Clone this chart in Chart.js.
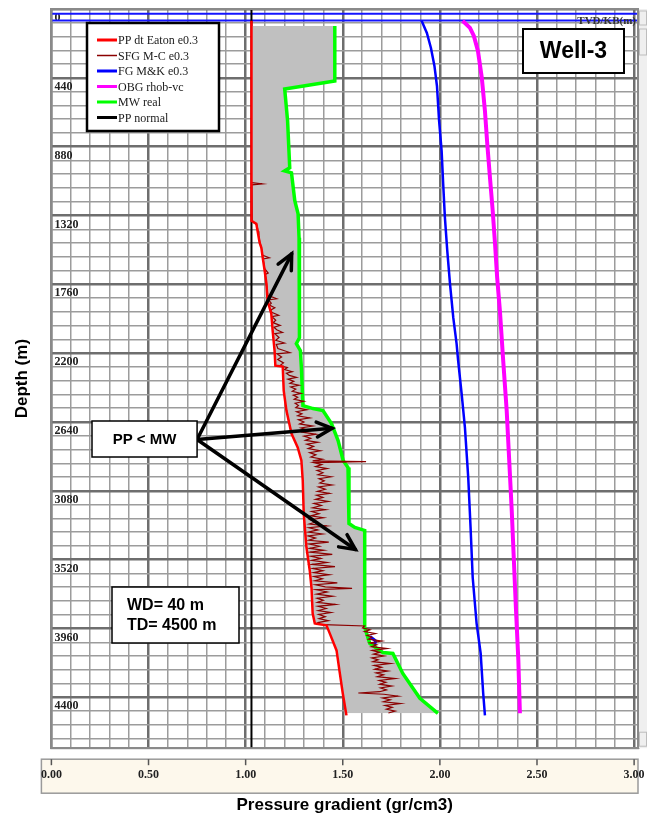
<!DOCTYPE html>
<html lang="en">
<head>
<meta charset="UTF-8">
<title>Well-3 - Pressure gradient vs depth</title>
<script src="https://cdn.jsdelivr.net/npm/chart.js"></script>
<style>
    body { margin: 0; background: #ffffff; }
    #wrap { position: relative; width: 647px; height: 820px; }
</style>
</head>
<body>
<div id="wrap"><canvas id="wellChart" width="647" height="820"></canvas></div>
<script>
// Logs as [depth TVD/KB (m), gradient (gr/cm3)]
const ppLog = [[75,1.03],[1354,1.03],[1373,1.055],[1494,1.072],[1526,1.081],[1590,1.088],[1673,1.098],[1756,1.107],[1865,1.113],[1948,1.132],[2056,1.139],[2184,1.149],[2280,1.153],[2286,1.191],[2439,1.196],[2567,1.210],[2714,1.236],[2803,1.268],[2886,1.287],[3014,1.294],[3225,1.299],[3442,1.313],[3589,1.330],[3698,1.339],[3863,1.345],[3927,1.356],[3940,1.416],[3991,1.433],[4100,1.468],[4247,1.485],[4374,1.500],[4515,1.519]];

const sfgLog = [
    [1110,1.032],[1118,1.085],[1124,1.032],[1360,1.034],[1380,1.058],[1420,1.064],[1450,1.068],[1494,1.074],[1520,1.080],[1575,1.088],[1590,1.122],[1598,1.090],[1660,1.098],[1688,1.116],[1696,1.101],[1760,1.108],[1830,1.114],[1852,1.160],[1860,1.118],[1880,1.132],[1893,1.122],[1910,1.150],[1925,1.128],[1940,1.137],[1958,1.170],[1966,1.136],[1990,1.155],[2005,1.141],[2022,1.178],[2034,1.146],[2050,1.160],[2068,1.190],[2075,1.150],[2100,1.172],[2118,1.155],[2135,1.200],[2144,1.158],[2170,1.166],[2196,1.228],[2204,1.160],[2225,1.185],[2240,1.165],[2262,1.195],[2280,1.175],
    [2292,1.215],[2305,1.200],[2318,1.240],[2328,1.210],[2342,1.225],[2355,1.262],[2366,1.218],[2380,1.248],[2392,1.228],[2405,1.275],[2416,1.232],[2430,1.258],[2444,1.240],[2457,1.285],[2468,1.245],[2482,1.268],[2495,1.250],[2508,1.300],[2520,1.255],[2534,1.272],[2548,1.258],[2562,1.315],[2574,1.262],[2588,1.290],[2600,1.268],[2614,1.330],[2625,1.272],[2640,1.300],[2652,1.278],[2666,1.345],[2678,1.285],[2692,1.318],[2705,1.292],[2718,1.362],[2730,1.300],[2744,1.335],[2757,1.308],[2770,1.372],[2782,1.315],[2796,1.350],[2810,1.322],[2824,1.385],[2836,1.330],[2850,1.362],[2864,1.336],[2878,1.395],[2888,1.345],[2893,1.620],[2899,1.350],
    [2912,1.392],[2925,1.360],[2938,1.420],[2950,1.368],[2964,1.398],[2977,1.372],[2990,1.440],[3002,1.378],[3016,1.405],[3030,1.382],[3043,1.445],[3055,1.375],[3070,1.410],[3083,1.370],[3096,1.432],[3108,1.365],[3122,1.398],[3135,1.360],[3148,1.425],[3160,1.352],[3174,1.390],[3188,1.345],[3200,1.412],[3212,1.340],[3226,1.378],[3240,1.335],[3252,1.400],[3264,1.332],[3278,1.366],[3292,1.328],[3304,1.418],[3316,1.326],[3330,1.372],[3344,1.322],[3356,1.395],[3368,1.322],[3382,1.360],[3396,1.325],[3408,1.428],[3420,1.326],[3434,1.380],[3448,1.330],[3460,1.402],[3472,1.332],[3486,1.446],[3498,1.336],[3512,1.388],[3525,1.340],[3538,1.418],[3550,1.342],[3564,1.460],[3576,1.346],[3590,1.398],[3603,1.350],[3616,1.430],[3628,1.352],[3642,1.395],[3655,1.356],[3668,1.472],[3680,1.360],[3694,1.410],[3704,1.548],[3712,1.364],[3726,1.420],[3740,1.366],[3754,1.448],[3766,1.368],[3780,1.400],[3793,1.370],[3806,1.462],[3818,1.372],[3832,1.415],[3845,1.374],[3858,1.440],[3870,1.376],[3884,1.410],[3897,1.378],[3910,1.425],[3922,1.372],[3934,1.365],[3944,1.612],
    [3956,1.602],[3968,1.640],[3980,1.612],[3992,1.668],[4004,1.625],[4016,1.650],[4028,1.632],[4040,1.700],[4052,1.640],[4064,1.675],[4076,1.648],[4088,1.728],[4100,1.652],[4112,1.690],[4124,1.658],[4136,1.712],[4148,1.650],[4160,1.682],[4172,1.655],[4184,1.745],[4196,1.662],[4208,1.700],[4220,1.665],[4232,1.732],[4244,1.672],[4256,1.710],[4268,1.678],[4280,1.770],[4292,1.688],[4304,1.722],[4316,1.690],[4328,1.752],[4340,1.695],[4352,1.725],[4364,1.690],[4372,1.580],[4380,1.712],[4392,1.785],[4404,1.705],[4416,1.745],[4428,1.710],[4440,1.798],[4452,1.718],[4464,1.755],[4476,1.725],[4488,1.770],[4500,1.735]
];

const fgLog = [[75,1.906],[153,1.933],[249,1.954],[364,1.972],[492,1.985],[715,1.996],[907,2.009],[1118,2.017],[1335,2.026],[1545,2.038],[1756,2.052],[1973,2.069],[2139,2.086],[2248,2.094],[2459,2.112],[2676,2.129],[2995,2.146],[3314,2.158],[3634,2.169],[3927,2.189],[4119,2.210],[4374,2.223],[4515,2.232]];

const fgPatch = [[4010,1.640],[4040,1.670],[4075,1.660]];

const obgLog = [[75,2.117],[121,2.155],[172,2.175],[268,2.196],[441,2.216],[651,2.232],[862,2.244],[1079,2.258],[1290,2.272],[1501,2.284],[1718,2.295],[1929,2.309],[2248,2.326],[2567,2.344],[2886,2.357],[3206,2.370],[3525,2.381],[3844,2.392],[4164,2.404],[4502,2.412]];

const mwLog = [[109,1.459],[460,1.459],[511,1.201],[715,1.216],[1015,1.227],[1035,1.201],[1047,1.236],[1226,1.253],[1309,1.270],[1462,1.275],[1673,1.275],[1884,1.278],[2101,1.278],[2139,1.261],[2184,1.282],[2293,1.287],[2535,1.295],[2554,1.347],[2567,1.398],[2650,1.442],[2759,1.476],[2886,1.502],[2931,1.527],[3289,1.532],[3314,1.562],[3333,1.613],[3953,1.613],[4055,1.639],[4113,1.706],[4119,1.758],[4247,1.809],[4406,1.897],[4502,1.990]];

const ppNormal = [[0,1.03],[4725,1.03]];
const topLines = [30, 73];

// axis limits and ticks
const gradMax = 3.02, depthMax = 4725;
const gradStep = 0.1, depthStep = 88;
const labelEveryGrad = 0.5, labelEveryDepth = 440;

// annotation anchors in data units [grad, depth]
const noteFrom = [0.75, 2752];
const noteTips = [[1.237, 1565], [1.445, 2680], [1.565, 3455]];

const toPts = log => log.map(p => ({x: p[1], y: p[0]}));
const isMajorGrad = v => Math.abs(v / labelEveryGrad - Math.round(v / labelEveryGrad)) < 1e-6;
const isMajorDepth = v => v % labelEveryDepth === 0;

function arrow(ctx, x0, y0, x1, y1) {
    const ang = Math.atan2(y1 - y0, x1 - x0);
    const head = 17;
    ctx.beginPath();
    ctx.moveTo(x0, y0);
    ctx.lineTo(x1, y1);
    ctx.stroke();
    ctx.beginPath();
    ctx.moveTo(x1 - head * Math.cos(ang - 0.45), y1 - head * Math.sin(ang - 0.45));
    ctx.lineTo(x1, y1);
    ctx.lineTo(x1 - head * Math.cos(ang + 0.45), y1 - head * Math.sin(ang + 0.45));
    ctx.stroke();
}

function box(ctx, x, y, w, h, lw) {
    ctx.fillStyle = '#ffffff';
    ctx.fillRect(x, y, w, h);
    ctx.strokeStyle = '#000000';
    ctx.lineWidth = lw;
    ctx.strokeRect(x, y, w, h);
}

const wellDecor = {
    id: 'wellDecor',
    beforeDraw(chart) {
        const {ctx, chartArea: a, scales: {x}} = chart;
        ctx.save();
        // scale strip under the plot
        const top = a.bottom + 11;
        ctx.fillStyle = '#fdf8ec';
        ctx.fillRect(a.left - 10, top, a.right - a.left + 10, 34);
        ctx.strokeStyle = '#9a9a9a';
        ctx.lineWidth = 1.5;
        ctx.strokeRect(a.left - 10, top, a.right - a.left + 10, 34);
        ctx.strokeStyle = '#555555';
        ctx.lineWidth = 1.5;
        x.ticks.forEach(t => {
            if (!isMajorGrad(t.value)) return;
            const px = x.getPixelForValue(t.value);
            ctx.beginPath();
            ctx.moveTo(px, top);
            ctx.lineTo(px, top + 6);
            ctx.stroke();
        });
        ctx.restore();
    },
    afterDraw(chart) {
        const {ctx, chartArea: a, scales: {x, y}} = chart;
        ctx.save();

        // plot frame and scroll bar
        ctx.strokeStyle = '#8a8a8a';
        ctx.lineWidth = 2;
        ctx.strokeRect(a.left, a.top, a.right - a.left, a.bottom - a.top);
        ctx.fillStyle = '#efefef';
        ctx.fillRect(a.right + 1, a.top, 647 - a.right - 1, a.bottom - a.top);
        ctx.strokeStyle = '#bdbdbd';
        ctx.lineWidth = 1;
        ctx.strokeRect(a.right + 1.5, a.top + 2, 7, 14);
        ctx.strokeRect(a.right + 1.5, a.top + 20, 7, 26);
        ctx.strokeRect(a.right + 1.5, a.bottom - 16, 7, 14);

        ctx.fillStyle = '#333333';
        ctx.font = 'bold 11px "Liberation Serif"';
        ctx.textAlign = 'right';
        ctx.textBaseline = 'middle';
        ctx.fillText('TVD/KB(m)', a.right - 2, a.top + 12);

        // legend
        const items = chart.data.datasets.filter(ds => ds.label);
        box(ctx, 87, 23, 132, 108, 2.5);
        ctx.font = '12px "Liberation Serif"';
        ctx.textAlign = 'left';
        items.forEach((ds, i) => {
            const ly = 40 + i * 15.5;
            ctx.strokeStyle = ds.borderColor;
            ctx.lineWidth = ds.label === 'SFG M-C e0.3' ? 1.5 : 3;
            ctx.beginPath();
            ctx.moveTo(97, ly);
            ctx.lineTo(117, ly);
            ctx.stroke();
            ctx.fillStyle = '#1a1a1a';
            ctx.fillText(ds.label, 118, ly + 1);
        });

        // well name
        box(ctx, 523, 29, 101, 44, 2);
        ctx.fillStyle = '#000000';
        ctx.font = 'bold 23px "Liberation Sans"';
        ctx.textAlign = 'center';
        ctx.fillText('Well-3', 573.5, 52);

        // PP < MW note with arrows
        const fx = x.getPixelForValue(noteFrom[0]);
        const fy = y.getPixelForValue(noteFrom[1]);
        ctx.strokeStyle = '#000000';
        ctx.lineWidth = 3.5;
        ctx.lineCap = 'round';
        noteTips.forEach(t => arrow(ctx, fx, fy, x.getPixelForValue(t[0]), y.getPixelForValue(t[1])));
        ctx.lineCap = 'butt';
        box(ctx, 92, 421, fx - 92, 36, 1.5);
        ctx.fillStyle = '#000000';
        ctx.font = 'bold 15px "Liberation Sans"';
        ctx.textAlign = 'center';
        ctx.fillText('PP < MW', 92 + (fx - 92) / 2, 439.5);

        // water and total depth
        box(ctx, 112, 587, 127, 56, 1.5);
        ctx.fillStyle = '#000000';
        ctx.font = 'bold 16px "Liberation Sans"';
        ctx.textAlign = 'left';
        ctx.fillText('WD= 40 m', 127, 606);
        ctx.fillText('TD= 4500 m', 127, 626);

        ctx.restore();
    }
};

const lineSet = (label, log, color, width, extra) => Object.assign({
    label: label,
    data: toPts(log),
    borderColor: color,
    borderWidth: width,
    pointRadius: 0,
    fill: false
}, extra || {});

const datasets = [
    lineSet('PP dt Eaton e0.3', ppLog, '#ff0000', 2.5),
    lineSet('SFG M-C e0.3', sfgLog, '#8b0000', 1.2),
    lineSet('FG M&K e0.3', fgLog, '#0000ff', 2.5),
    lineSet('OBG rhob-vc', obgLog, '#ff00ff', 4),
    lineSet('MW real', mwLog, '#00ff00', 3.5, {fill: {target: 0}, backgroundColor: '#c0c0c0'}),
    lineSet('PP normal', ppNormal, '#000000', 2),
    lineSet('', fgPatch, '#0000ff', 3)
];
topLines.forEach(d => datasets.push(lineSet('', [[d, 0], [d, gradMax]], '#1414ff', 2)));

const wellChart = new Chart(document.getElementById('wellChart'), {
    type: 'line',
    data: { datasets: datasets },
    options: {
        responsive: false,
        animation: false,
        devicePixelRatio: 1,
        indexAxis: 'y',
        elements: { line: { tension: 0 }, point: { radius: 0 } },
        layout: { padding: { left: 4, right: 9, top: 6, bottom: 0 } },
        plugins: { legend: { display: false }, tooltip: { enabled: false } },
        scales: {
            x: {
                type: 'linear',
                position: 'bottom',
                min: 0,
                max: gradMax,
                grid: {
                    drawTicks: true,
                    tickLength: 18,
                    tickColor: 'rgba(0,0,0,0)',
                    color: c => isMajorGrad(c.tick.value) ? '#6e6e6e' : '#9c9c9c',
                    lineWidth: c => isMajorGrad(c.tick.value) ? 2.5 : 1.5
                },
                border: { display: true, color: '#8a8a8a', width: 2 },
                ticks: {
                    stepSize: gradStep,
                    includeBounds: false,
                    autoSkip: false,
                    maxRotation: 0,
                    padding: 2,
                    color: '#222222',
                    font: { family: '"Liberation Serif"', size: 12, weight: 'bold' },
                    callback: v => isMajorGrad(v) ? v.toFixed(2) : ''
                },
                title: {
                    display: true,
                    text: 'Pressure gradient (gr/cm3)',
                    color: '#000000',
                    font: { family: '"Liberation Sans"', size: 17, weight: 'bold' },
                    padding: { top: 11, bottom: 4 }
                }
            },
            y: {
                type: 'linear',
                reverse: true,
                min: 0,
                max: depthMax,
                grid: {
                    drawTicks: false,
                    color: c => isMajorDepth(c.tick.value) ? '#6e6e6e' : '#9c9c9c',
                    lineWidth: c => isMajorDepth(c.tick.value) ? 2.5 : 1.5
                },
                border: { display: true, color: '#8a8a8a', width: 2 },
                ticks: {
                    stepSize: depthStep,
                    includeBounds: false,
                    autoSkip: false,
                    mirror: true,
                    padding: 3,
                    labelOffset: 9,
                    color: '#222222',
                    font: { family: '"Liberation Serif"', size: 12, weight: 'bold', lineHeight: 1 },
                    callback: v => isMajorDepth(v) ? String(v) : ''
                },
                title: {
                    display: true,
                    text: 'Depth (m)',
                    color: '#000000',
                    font: { family: '"Liberation Sans"', size: 17, weight: 'bold' },
                    padding: { top: 8, bottom: 13 }
                }
            }
        }
    },
    plugins: [wellDecor]
});
</script>
</body>
</html>
